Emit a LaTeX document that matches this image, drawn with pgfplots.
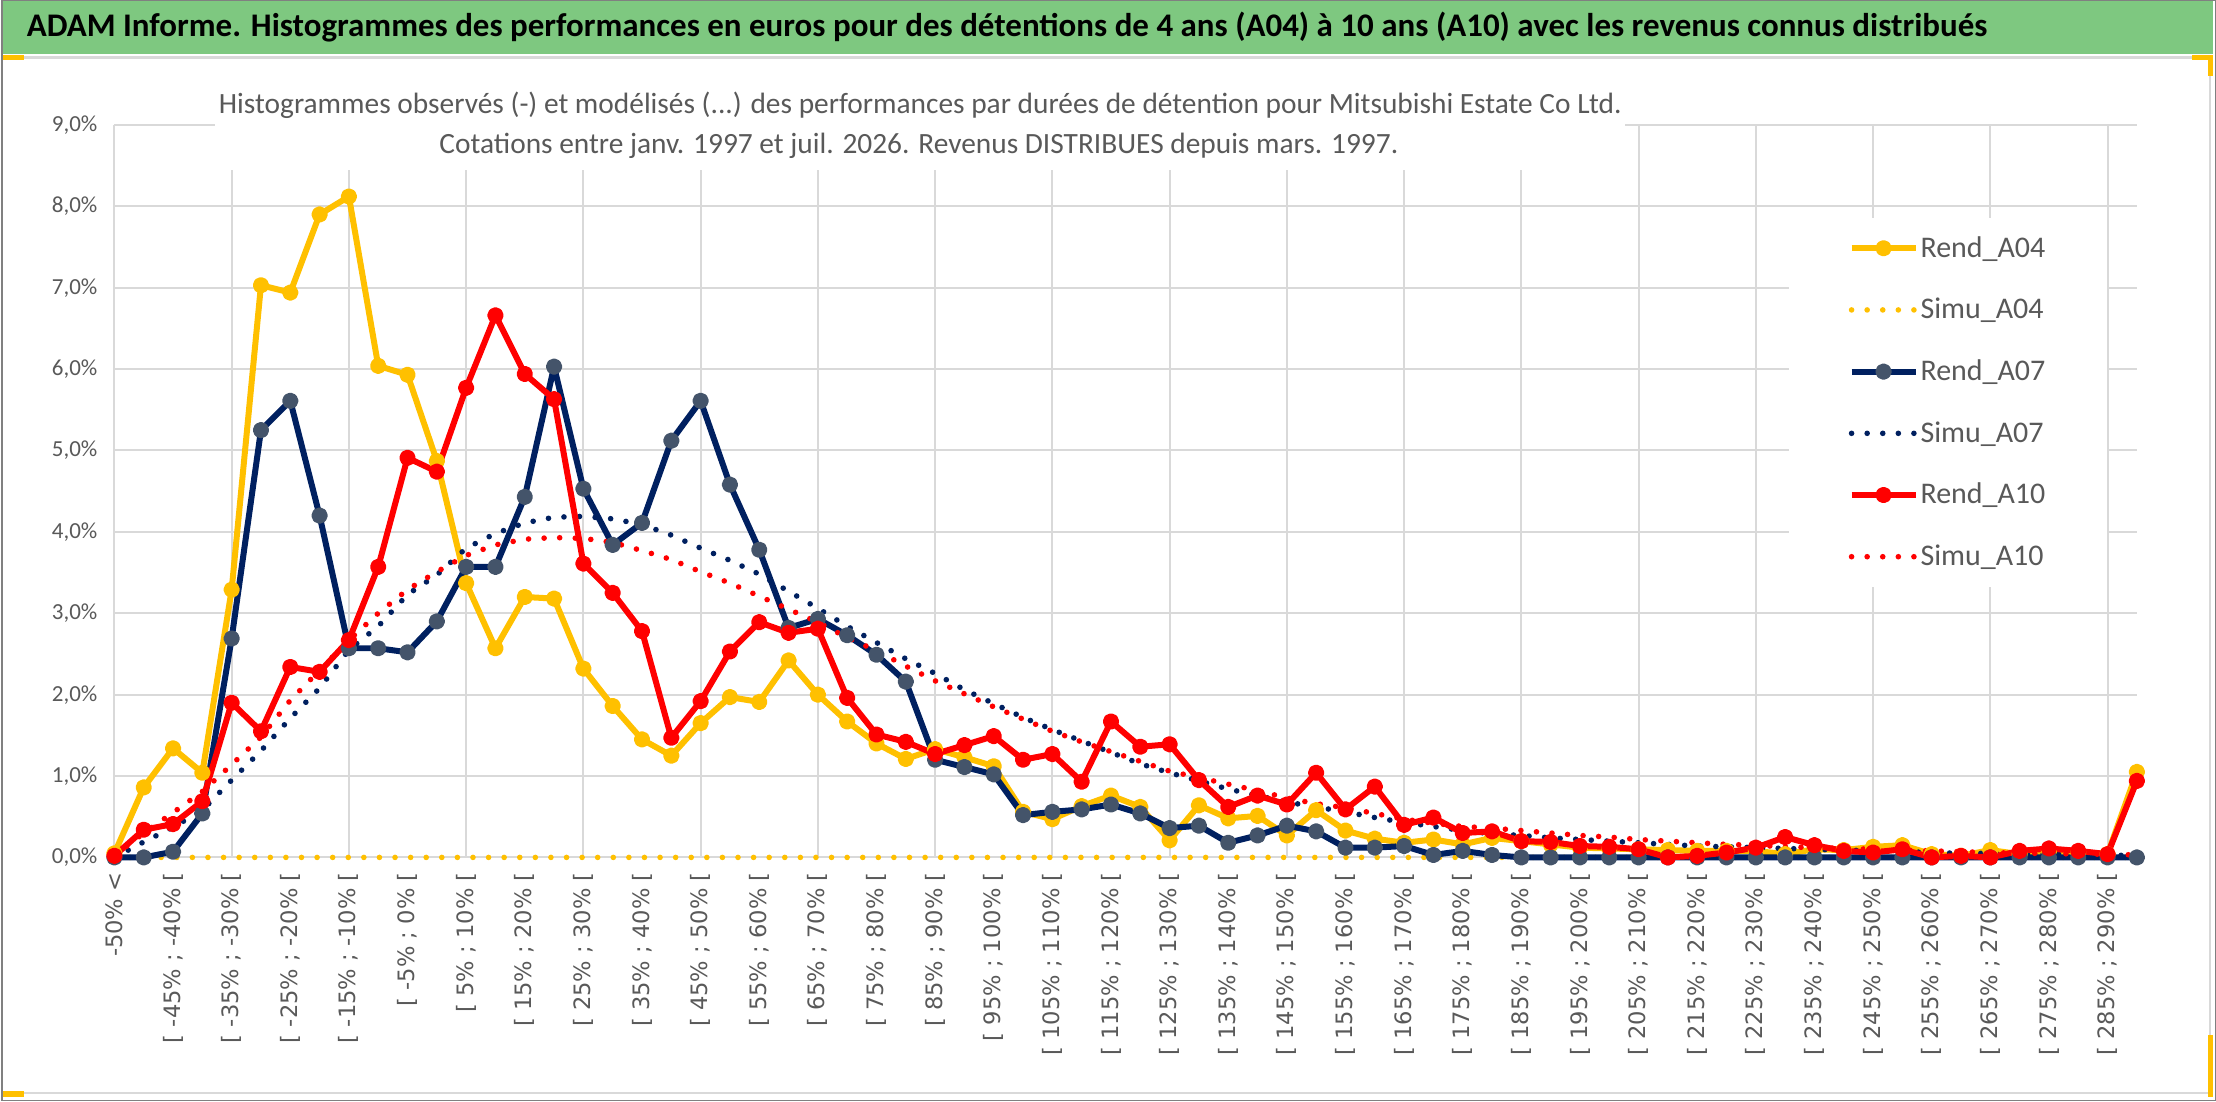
\documentclass[border=0pt]{standalone}
\usepackage{fontspec}
\usepackage{graphicx}
\usepackage{pgfplots}
\usepackage{pgfplotstable}
\pgfplotsset{compat=1.18}
\setmainfont{Carlito}
\newfontfamily\dejavu{DejaVu Sans}
\definecolor{gold}{HTML}{FFC000}
\definecolor{navy}{HTML}{002060}
\definecolor{navymk}{HTML}{44546A}
\definecolor{redc}{HTML}{FF0000}
\definecolor{gridc}{HTML}{D9D9D9}
\definecolor{txt}{HTML}{595959}
\definecolor{barg}{RGB}{126,200,128}

\pgfplotstableread{
i a04r a04s a07r a07s a10r a10s
0 0.05 0 0.00 0.00 0.02 0.02
1 0.86 0 0.00 0.19 0.34 0.30
2 1.34 0 0.07 0.37 0.41 0.55
3 1.04 0 0.54 0.58 0.69 0.81
4 3.29 0 2.69 0.95 1.90 1.14
5 7.03 0 5.25 1.31 1.55 1.48
6 6.94 0 5.61 1.71 2.34 1.93
7 7.90 0 4.20 2.08 2.28 2.30
8 8.12 0 2.57 2.55 2.67 2.67
9 6.04 0 2.57 2.84 3.57 3.00
10 5.93 0 2.52 3.23 4.91 3.29
11 4.87 0 2.90 3.47 4.74 3.51
12 3.37 0 3.57 3.80 5.77 3.71
13 2.57 0 3.57 3.98 6.66 3.84
14 3.20 0 4.43 4.11 5.94 3.91
15 3.18 0 6.03 4.18 5.63 3.93
16 2.32 0 4.53 4.19 3.61 3.92
17 1.86 0 3.84 4.16 3.25 3.87
18 1.45 0 4.11 4.09 2.78 3.77
19 1.25 0 5.12 3.96 1.47 3.66
20 1.65 0 5.61 3.80 1.92 3.51
21 1.97 0 4.58 3.65 2.53 3.37
22 1.91 0 3.78 3.48 2.89 3.21
23 2.42 0 2.82 3.27 2.76 3.05
24 2.00 0 2.93 3.06 2.81 2.89
25 1.67 0 2.73 2.84 1.96 2.70
26 1.40 0 2.49 2.64 1.51 2.54
27 1.21 0 2.16 2.44 1.42 2.35
28 1.33 0 1.20 2.26 1.27 2.17
29 1.23 0 1.11 2.06 1.38 2.01
30 1.12 0 1.02 1.89 1.49 1.85
31 0.56 0 0.52 1.72 1.20 1.70
32 0.47 0 0.56 1.57 1.27 1.55
33 0.63 0 0.59 1.43 0.93 1.42
34 0.76 0 0.65 1.29 1.67 1.30
35 0.62 0 0.54 1.15 1.36 1.18
36 0.21 0 0.36 1.04 1.39 1.06
37 0.64 0 0.39 0.94 0.95 0.98
38 0.48 0 0.18 0.84 0.62 0.90
39 0.51 0 0.27 0.76 0.76 0.82
40 0.27 0 0.39 0.68 0.65 0.73
41 0.58 0 0.32 0.62 1.04 0.66
42 0.33 0 0.12 0.56 0.59 0.61
43 0.23 0 0.12 0.49 0.87 0.54
44 0.18 0 0.14 0.43 0.40 0.47
45 0.22 0 0.03 0.38 0.49 0.42
46 0.16 0 0.08 0.33 0.30 0.38
47 0.24 0 0.03 0.29 0.32 0.36
48 0.20 0 0.00 0.27 0.20 0.33
49 0.16 0 0.00 0.24 0.19 0.30
50 0.12 0 0.00 0.22 0.14 0.27
51 0.11 0 0.00 0.20 0.13 0.25
52 0.10 0 0.00 0.18 0.10 0.22
53 0.09 0 0.00 0.16 0.00 0.20
54 0.08 0 0.00 0.14 0.02 0.18
55 0.08 0 0.00 0.13 0.06 0.16
56 0.08 0 0.00 0.12 0.12 0.15
57 0.04 0 0.00 0.11 0.25 0.13
58 0.10 0 0.00 0.10 0.15 0.12
59 0.09 0 0.00 0.09 0.08 0.11
60 0.13 0 0.00 0.08 0.06 0.10
61 0.15 0 0.00 0.07 0.10 0.09
62 0.04 0 0.00 0.06 0.00 0.08
63 0.02 0 0.00 0.05 0.02 0.07
64 0.09 0 0.00 0.05 0.00 0.06
65 0.04 0 0.00 0.04 0.08 0.05
66 0.08 0 0.00 0.04 0.11 0.05
67 0.06 0 0.00 0.03 0.08 0.04
68 0.04 0 0.00 0.03 0.04 0.04
69 1.05 0 0.00 0.02 0.94 0.03
}\datatab

\begin{document}
\begin{tikzpicture}[x=1pt,y=1pt]
% title bar
\fill[barg] (0,524) rectangle (1106.5,551);
\node[anchor=west,inner sep=0pt,text=black] at (12.5,537.5)
  {\fontsize{16.5}{19}\selectfont\bfseries ADAM Informe. Histogrammes des performances en euros pour des détentions de 4 ans (A04) à 10 ans (A10) avec les revenus connus distribués};
% frame
\draw[gridc,line width=1.5pt] (0,522) -- (1105,522);
\draw[gridc,line width=1.2pt] (1105,522) -- (1105,4);
\draw[gridc,line width=1.2pt] (0,4) -- (1105,4);
\draw[gridc,line width=0.8pt] (0.6,4) -- (0.6,522);
\fill[gold] (0,521) rectangle (11.5,523.5);
\fill[gold] (1096,521) rectangle (1106.5,523.5);
\fill[gold] (1104,513) rectangle (1106.5,523.5);
\fill[gold] (0,2) rectangle (11.5,5);
\fill[gold] (1104,2) rectangle (1106.5,33);
\draw[gray,line width=0.6pt] (0.3,0.3) rectangle (1107.7,550.7);

\begin{axis}[
  at={(56.5pt,122pt)}, anchor=south west,
  scale only axis, width=1012pt, height=366.5pt,
  xmin=0, xmax=69, ymin=0, ymax=9,
  clip=false,
  axis line style={draw=none},
  major tick length=0pt,
  ytick={0,1,...,9},
  yticklabels={{0,0\%},{1,0\%},{2,0\%},{3,0\%},{4,0\%},{5,0\%},{6,0\%},{7,0\%},{8,0\%},{9,0\%}},
  ymajorgrids,
  grid style={gridc,line width=1pt},
  xtick={0,2,...,68},
  xticklabels={{-50\% <},{[ -45\% ; -40\% [},{[ -35\% ; -30\% [},{[ -25\% ; -20\% [},{[ -15\% ; -10\% [},{[ -5\% ; 0\% [},{[ 5\% ; 10\% [},{[ 15\% ; 20\% [},{[ 25\% ; 30\% [},{[ 35\% ; 40\% [},{[ 45\% ; 50\% [},{[ 55\% ; 60\% [},{[ 65\% ; 70\% [},{[ 75\% ; 80\% [},{[ 85\% ; 90\% [},{[ 95\% ; 100\% [},{[ 105\% ; 110\% [},{[ 115\% ; 120\% [},{[ 125\% ; 130\% [},{[ 135\% ; 140\% [},{[ 145\% ; 150\% [},{[ 155\% ; 160\% [},{[ 165\% ; 170\% [},{[ 175\% ; 180\% [},{[ 185\% ; 190\% [},{[ 195\% ; 200\% [},{[ 205\% ; 210\% [},{[ 215\% ; 220\% [},{[ 225\% ; 230\% [},{[ 235\% ; 240\% [},{[ 245\% ; 250\% [},{[ 255\% ; 260\% [},{[ 265\% ; 270\% [},{[ 275\% ; 280\% [},{[ 285\% ; 290\% [}},
  extra x ticks={0,4,...,68},
  extra x tick labels={},
  extra x tick style={xmajorgrids=true},
  tick label style={text=txt},
  yticklabel style={font=\fontsize{11.5}{13}\selectfont, xshift=-5pt},
  xticklabel style={rotate=90, anchor=east, font=\dejavu\fontsize{11.3}{13}\selectfont, xshift=-4pt},
  legend cell align=left,
  legend image code/.code={\draw[mark repeat=2,mark phase=2,#1] plot coordinates {(0pt,0pt) (16pt,0pt) (32pt,0pt)};},
  legend style={at={(0.8276,0.873)}, anchor=north west, draw=none, fill=white,
     font=\fontsize{15}{17}\selectfont, text=txt, inner xsep=30pt, inner ysep=8pt,
     row sep=17pt, nodes={inner sep=1pt}},
  rend/.style={line width=3pt, line join=round, mark=*, mark size=2.6pt},
  simu/.style={line width=2.8pt, line cap=round, dash pattern=on 0pt off 7.8pt},
]
\addplot[rend, gold, mark options={fill=gold,draw=gold}] table[x=i,y=a04r] {\datatab};
\addlegendentry{Rend\_A04}
\addplot[simu, gold] table[x=i,y=a04s] {\datatab};
\addlegendentry{Simu\_A04}
\addplot[rend, navy, mark options={fill=navymk,draw=navymk}] table[x=i,y=a07r] {\datatab};
\addlegendentry{Rend\_A07}
\addplot[simu, navy] table[x=i,y=a07s] {\datatab};
\addlegendentry{Simu\_A07}
\addplot[rend, redc, mark options={fill=redc,draw=redc}] table[x=i,y=a10r] {\datatab};
\addlegendentry{Rend\_A10}
\addplot[simu, redc] table[x=i,y=a10s] {\datatab};
\addlegendentry{Simu\_A10}
\end{axis}

% chart title (white box over the grid)
\fill[white] (107,466) rectangle (812.5,516);
\node[text=txt,inner sep=0pt] at (459.7,498.5) {\fontsize{14.7}{17}\selectfont Histogrammes observés (-) et modélisés (...) des performances par durées de détention pour Mitsubishi Estate Co Ltd.};
\node[text=txt,inner sep=0pt] at (459,478) {\fontsize{14.7}{17}\selectfont Cotations entre janv. 1997 et juil. 2026. Revenus DISTRIBUES depuis mars. 1997.};
\path (0,0) rectangle (1108,551);
\end{tikzpicture}
\end{document}
